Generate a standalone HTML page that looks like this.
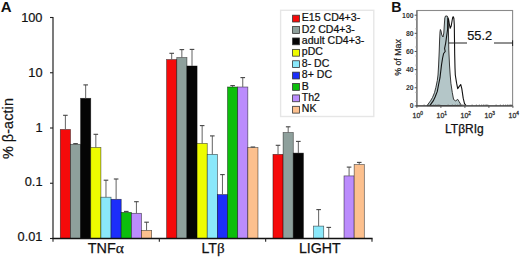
<!DOCTYPE html><html><head><meta charset="utf-8"><style>html,body{margin:0;padding:0;background:#fff;}svg{display:block;}text{font-family:"Liberation Sans",sans-serif;}</style></head><body>
<svg width="520" height="257" viewBox="0 0 520 257">
<rect width="520" height="257" fill="#fff"/>
<text x="0.8" y="11.9" font-size="15" font-weight="bold" fill="#111">A</text>
<text x="42.5" y="22.10" font-size="12.8" text-anchor="end" fill="#111" stroke="#111" stroke-width="0.2">100</text>
<line x1="50" y1="17.50" x2="53.0" y2="17.50" stroke="#222" stroke-width="1.1"/>
<text x="42.5" y="77.10" font-size="12.8" text-anchor="end" fill="#111" stroke="#111" stroke-width="0.2">10</text>
<line x1="50" y1="72.75" x2="53.0" y2="72.75" stroke="#222" stroke-width="1.1"/>
<text x="42.5" y="131.80" font-size="12.8" text-anchor="end" fill="#111" stroke="#111" stroke-width="0.2">1</text>
<line x1="50" y1="128.00" x2="53.0" y2="128.00" stroke="#222" stroke-width="1.1"/>
<text x="42.5" y="186.30" font-size="12.8" text-anchor="end" fill="#111" stroke="#111" stroke-width="0.2">0.1</text>
<line x1="50" y1="183.25" x2="53.0" y2="183.25" stroke="#222" stroke-width="1.1"/>
<text x="42.5" y="241.00" font-size="12.8" text-anchor="end" fill="#111" stroke="#111" stroke-width="0.2">0.01</text>
<line x1="50" y1="238.50" x2="53.0" y2="238.50" stroke="#222" stroke-width="1.1"/>
<rect x="60.30" y="129.50" width="10.15" height="109.00" fill="#f50a0a" stroke="rgba(0,0,0,0.6)" stroke-width="0.7"/>
<line x1="65.38" y1="129.50" x2="65.38" y2="115.30" stroke="#626262" stroke-width="1"/>
<line x1="63.08" y1="115.30" x2="67.67" y2="115.30" stroke="#444" stroke-width="1.1"/>
<rect x="70.45" y="144.30" width="10.15" height="94.20" fill="#8ea09c" stroke="rgba(0,0,0,0.6)" stroke-width="0.7"/>
<line x1="75.53" y1="144.30" x2="75.53" y2="143.60" stroke="#626262" stroke-width="1"/>
<line x1="73.23" y1="143.60" x2="77.83" y2="143.60" stroke="#444" stroke-width="1.1"/>
<rect x="80.60" y="98.30" width="10.15" height="140.20" fill="#050505" stroke="rgba(0,0,0,0.6)" stroke-width="0.7"/>
<line x1="85.67" y1="98.30" x2="85.67" y2="84.90" stroke="#626262" stroke-width="1"/>
<line x1="83.38" y1="84.90" x2="87.97" y2="84.90" stroke="#444" stroke-width="1.1"/>
<rect x="90.75" y="147.50" width="10.15" height="91.00" fill="#eefc00" stroke="rgba(0,0,0,0.6)" stroke-width="0.7"/>
<line x1="95.83" y1="147.50" x2="95.83" y2="134.30" stroke="#626262" stroke-width="1"/>
<line x1="93.53" y1="134.30" x2="98.12" y2="134.30" stroke="#444" stroke-width="1.1"/>
<rect x="100.90" y="197.20" width="10.15" height="41.30" fill="#8ae8fa" stroke="rgba(0,0,0,0.6)" stroke-width="0.7"/>
<line x1="105.98" y1="197.20" x2="105.98" y2="180.20" stroke="#626262" stroke-width="1"/>
<line x1="103.68" y1="180.20" x2="108.28" y2="180.20" stroke="#444" stroke-width="1.1"/>
<rect x="111.05" y="199.30" width="10.15" height="39.20" fill="#1c2efa" stroke="rgba(0,0,0,0.6)" stroke-width="0.7"/>
<line x1="116.12" y1="199.30" x2="116.12" y2="179.00" stroke="#626262" stroke-width="1"/>
<line x1="113.83" y1="179.00" x2="118.42" y2="179.00" stroke="#444" stroke-width="1.1"/>
<rect x="121.20" y="212.40" width="10.15" height="26.10" fill="#0cbe0c" stroke="rgba(0,0,0,0.6)" stroke-width="0.7"/>
<line x1="126.28" y1="212.40" x2="126.28" y2="211.40" stroke="#626262" stroke-width="1"/>
<line x1="123.98" y1="211.40" x2="128.58" y2="211.40" stroke="#444" stroke-width="1.1"/>
<rect x="131.35" y="213.30" width="10.15" height="25.20" fill="#bb8cfc" stroke="rgba(0,0,0,0.6)" stroke-width="0.7"/>
<line x1="136.42" y1="213.30" x2="136.42" y2="201.70" stroke="#626262" stroke-width="1"/>
<line x1="134.12" y1="201.70" x2="138.72" y2="201.70" stroke="#444" stroke-width="1.1"/>
<rect x="141.50" y="230.40" width="10.15" height="8.10" fill="#fcc08e" stroke="rgba(0,0,0,0.6)" stroke-width="0.7"/>
<line x1="146.57" y1="230.40" x2="146.57" y2="222.20" stroke="#626262" stroke-width="1"/>
<line x1="144.27" y1="222.20" x2="148.88" y2="222.20" stroke="#444" stroke-width="1.1"/>
<rect x="166.63" y="59.60" width="10.15" height="178.90" fill="#f50a0a" stroke="rgba(0,0,0,0.6)" stroke-width="0.7"/>
<line x1="171.70" y1="59.60" x2="171.70" y2="53.30" stroke="#626262" stroke-width="1"/>
<line x1="169.40" y1="53.30" x2="174.00" y2="53.30" stroke="#444" stroke-width="1.1"/>
<rect x="176.78" y="57.60" width="10.15" height="180.90" fill="#8ea09c" stroke="rgba(0,0,0,0.6)" stroke-width="0.7"/>
<line x1="181.85" y1="57.60" x2="181.85" y2="49.60" stroke="#626262" stroke-width="1"/>
<line x1="179.55" y1="49.60" x2="184.16" y2="49.60" stroke="#444" stroke-width="1.1"/>
<rect x="186.93" y="66.00" width="10.15" height="172.50" fill="#050505" stroke="rgba(0,0,0,0.6)" stroke-width="0.7"/>
<line x1="192.00" y1="66.00" x2="192.00" y2="49.40" stroke="#626262" stroke-width="1"/>
<line x1="189.70" y1="49.40" x2="194.31" y2="49.40" stroke="#444" stroke-width="1.1"/>
<rect x="197.08" y="143.50" width="10.15" height="95.00" fill="#eefc00" stroke="rgba(0,0,0,0.6)" stroke-width="0.7"/>
<line x1="202.15" y1="143.50" x2="202.15" y2="125.60" stroke="#626262" stroke-width="1"/>
<line x1="199.85" y1="125.60" x2="204.45" y2="125.60" stroke="#444" stroke-width="1.1"/>
<rect x="207.23" y="154.40" width="10.15" height="84.10" fill="#8ae8fa" stroke="rgba(0,0,0,0.6)" stroke-width="0.7"/>
<line x1="212.30" y1="154.40" x2="212.30" y2="135.90" stroke="#626262" stroke-width="1"/>
<line x1="210.00" y1="135.90" x2="214.60" y2="135.90" stroke="#444" stroke-width="1.1"/>
<rect x="217.38" y="194.60" width="10.15" height="43.90" fill="#1c2efa" stroke="rgba(0,0,0,0.6)" stroke-width="0.7"/>
<line x1="222.45" y1="194.60" x2="222.45" y2="174.60" stroke="#626262" stroke-width="1"/>
<line x1="220.15" y1="174.60" x2="224.75" y2="174.60" stroke="#444" stroke-width="1.1"/>
<rect x="227.53" y="87.00" width="10.15" height="151.50" fill="#0cbe0c" stroke="rgba(0,0,0,0.6)" stroke-width="0.7"/>
<line x1="232.60" y1="87.00" x2="232.60" y2="85.60" stroke="#626262" stroke-width="1"/>
<line x1="230.30" y1="85.60" x2="234.91" y2="85.60" stroke="#444" stroke-width="1.1"/>
<rect x="237.68" y="87.00" width="10.15" height="151.50" fill="#bb8cfc" stroke="rgba(0,0,0,0.6)" stroke-width="0.7"/>
<line x1="242.75" y1="87.00" x2="242.75" y2="77.60" stroke="#626262" stroke-width="1"/>
<line x1="240.45" y1="77.60" x2="245.06" y2="77.60" stroke="#444" stroke-width="1.1"/>
<rect x="247.83" y="147.60" width="10.15" height="90.90" fill="#fcc08e" stroke="rgba(0,0,0,0.6)" stroke-width="0.7"/>
<line x1="252.90" y1="147.60" x2="252.90" y2="147.00" stroke="#626262" stroke-width="1"/>
<line x1="250.60" y1="147.00" x2="255.20" y2="147.00" stroke="#444" stroke-width="1.1"/>
<rect x="272.96" y="154.40" width="10.15" height="84.10" fill="#f50a0a" stroke="rgba(0,0,0,0.6)" stroke-width="0.7"/>
<line x1="278.03" y1="154.40" x2="278.03" y2="145.30" stroke="#626262" stroke-width="1"/>
<line x1="275.73" y1="145.30" x2="280.33" y2="145.30" stroke="#444" stroke-width="1.1"/>
<rect x="283.11" y="132.60" width="10.15" height="105.90" fill="#8ea09c" stroke="rgba(0,0,0,0.6)" stroke-width="0.7"/>
<line x1="288.18" y1="132.60" x2="288.18" y2="126.80" stroke="#626262" stroke-width="1"/>
<line x1="285.88" y1="126.80" x2="290.48" y2="126.80" stroke="#444" stroke-width="1.1"/>
<rect x="293.26" y="153.10" width="10.15" height="85.40" fill="#050505" stroke="rgba(0,0,0,0.6)" stroke-width="0.7"/>
<line x1="298.33" y1="153.10" x2="298.33" y2="141.40" stroke="#626262" stroke-width="1"/>
<line x1="296.03" y1="141.40" x2="300.63" y2="141.40" stroke="#444" stroke-width="1.1"/>
<rect x="313.56" y="226.10" width="10.15" height="12.40" fill="#8ae8fa" stroke="rgba(0,0,0,0.6)" stroke-width="0.7"/>
<line x1="318.63" y1="226.10" x2="318.63" y2="209.60" stroke="#626262" stroke-width="1"/>
<line x1="316.33" y1="209.60" x2="320.94" y2="209.60" stroke="#444" stroke-width="1.1"/>
<line x1="328.78" y1="238.50" x2="328.78" y2="227.40" stroke="#626262" stroke-width="1"/>
<line x1="326.48" y1="227.40" x2="331.08" y2="227.40" stroke="#444" stroke-width="1.1"/>
<rect x="344.01" y="175.90" width="10.15" height="62.60" fill="#bb8cfc" stroke="rgba(0,0,0,0.6)" stroke-width="0.7"/>
<line x1="349.08" y1="175.90" x2="349.08" y2="167.10" stroke="#626262" stroke-width="1"/>
<line x1="346.78" y1="167.10" x2="351.38" y2="167.10" stroke="#444" stroke-width="1.1"/>
<rect x="354.16" y="164.60" width="10.15" height="73.90" fill="#fcc08e" stroke="rgba(0,0,0,0.6)" stroke-width="0.7"/>
<line x1="359.23" y1="164.60" x2="359.23" y2="162.40" stroke="#626262" stroke-width="1"/>
<line x1="356.93" y1="162.40" x2="361.53" y2="162.40" stroke="#444" stroke-width="1.1"/>
<line x1="53.0" y1="17" x2="53.0" y2="239.0" stroke="#222" stroke-width="1.2"/>
<line x1="52.4" y1="238.5" x2="372.59000000000003" y2="238.5" stroke="#111" stroke-width="1.3"/>
<line x1="53.00" y1="238.5" x2="53.00" y2="241.7" stroke="#222" stroke-width="1.1"/>
<line x1="159.33" y1="238.5" x2="159.33" y2="241.7" stroke="#222" stroke-width="1.1"/>
<line x1="265.66" y1="238.5" x2="265.66" y2="241.7" stroke="#222" stroke-width="1.1"/>
<line x1="371.99" y1="238.5" x2="371.99" y2="241.7" stroke="#222" stroke-width="1.1"/>
<text x="105.86" y="252.7" font-size="14.4" text-anchor="middle" fill="#111" stroke="#111" stroke-width="0.25">TNF<tspan font-family="Liberation Serif" font-size="15.5">α</tspan></text>
<text x="213.09" y="252.6" font-size="14.2" text-anchor="middle" fill="#111" stroke="#111" stroke-width="0.25">LT<tspan font-family="Liberation Serif" font-size="15">β</tspan></text>
<text x="319.82" y="252.8" font-size="14.2" text-anchor="middle" fill="#111" stroke="#111" stroke-width="0.25">LIGHT</text>
<text transform="translate(13.2,128.6) rotate(-90)" font-size="14.4" text-anchor="middle" fill="#111" stroke="#111" stroke-width="0.2" textLength="61" lengthAdjust="spacing">% β-actin</text>
<rect x="280.6" y="10.3" width="93.2" height="106.2" fill="#fff" stroke="#e6e6e6" stroke-width="1.4"/>
<rect x="292.6" y="15.20" width="6.8" height="6.8" fill="#f50a0a" stroke="#333" stroke-width="0.8"/>
<text transform="translate(301.8,21.20) scale(1.035,1)" font-size="10.2" fill="#111" stroke="#111" stroke-width="0.22">E15 CD4+3-</text>
<rect x="292.6" y="26.59" width="6.8" height="6.8" fill="#8ea09c" stroke="#333" stroke-width="0.8"/>
<text transform="translate(301.8,32.59) scale(1.035,1)" font-size="10.2" fill="#111" stroke="#111" stroke-width="0.22">D2 CD4+3-</text>
<rect x="292.6" y="37.98" width="6.8" height="6.8" fill="#050505" stroke="#333" stroke-width="0.8"/>
<text transform="translate(301.8,43.98) scale(1.035,1)" font-size="10.2" fill="#111" stroke="#111" stroke-width="0.22">adult CD4+3-</text>
<rect x="292.6" y="49.37" width="6.8" height="6.8" fill="#eefc00" stroke="#333" stroke-width="0.8"/>
<text transform="translate(301.8,55.37) scale(1.035,1)" font-size="10.2" fill="#111" stroke="#111" stroke-width="0.22">pDC</text>
<rect x="292.6" y="60.76" width="6.8" height="6.8" fill="#8ae8fa" stroke="#333" stroke-width="0.8"/>
<text transform="translate(301.8,66.76) scale(1.035,1)" font-size="10.2" fill="#111" stroke="#111" stroke-width="0.22">8- DC</text>
<rect x="292.6" y="72.15" width="6.8" height="6.8" fill="#1c2efa" stroke="#333" stroke-width="0.8"/>
<text transform="translate(301.8,78.15) scale(1.035,1)" font-size="10.2" fill="#111" stroke="#111" stroke-width="0.22">8+ DC</text>
<rect x="292.6" y="83.54" width="6.8" height="6.8" fill="#0cbe0c" stroke="#333" stroke-width="0.8"/>
<text transform="translate(301.8,89.54) scale(1.035,1)" font-size="10.2" fill="#111" stroke="#111" stroke-width="0.22">B</text>
<rect x="292.6" y="94.93" width="6.8" height="6.8" fill="#bb8cfc" stroke="#333" stroke-width="0.8"/>
<text transform="translate(301.8,100.93) scale(1.035,1)" font-size="10.2" fill="#111" stroke="#111" stroke-width="0.22">Th2</text>
<rect x="292.6" y="106.32" width="6.8" height="6.8" fill="#fcc08e" stroke="#333" stroke-width="0.8"/>
<text transform="translate(301.8,112.32) scale(1.035,1)" font-size="10.2" fill="#111" stroke="#111" stroke-width="0.22">NK</text>
<text x="391.2" y="12.3" font-size="14.2" font-weight="bold" fill="#111">B</text>
<rect x="416.9" y="10.5" width="95.7" height="95.4" fill="#fff" stroke="#8a8a8a" stroke-width="1.1"/>
<path d="M427,105.6 L430.5,100.9 L432.5,97.5 L434.5,92.7 L435.9,87.3 L437.3,80.5 L438,75 L438.6,65 L439.2,52 L439.6,40 L440,32 L440.4,29.5 L441,31 L441.8,35 L443,37 L443.8,33 L444.3,25 L444.8,18 L445.5,16 L447.2,16 L448,18 L448.3,22 L448.5,35 L448.8,50 L449.5,65 L450.2,75 L450.9,83.2 L452.3,92.7 L453.6,99.5 L455.7,100.9 L457.7,99.3 L459.1,101.6 L460.7,104.3 L461.5,105.6 Z" fill="#b4c6c8" stroke="#222" stroke-width="0.9" stroke-linejoin="round"/>
<path d="M429.8,105.6 L433.2,100.9 L435.2,96.8 L437.3,91.4 L438.6,84.5 L440,77.7 L440.3,75 L441.5,65 L442.6,58 L443.6,53.5 L445.2,51.5 L444.6,48.5 L445.7,43 L446.8,35 L447.6,29.5 L447.7,22 L447.9,18 L448.6,19.5 L449.3,24 L450.2,28.3 L451.2,26 L452.2,20 L452.8,17.2 L453.3,16.8 L453.9,18.5 L454.3,25 L454.5,40 L454.7,55 L455,68 L455.3,75 L456.6,83.2 L457.7,88.6 L459.1,86.6 L460.7,84.5 L461.8,88.6 L463.2,98.2 L464.5,103.6 L465.9,105.4" fill="none" stroke="#111" stroke-width="1.1" stroke-linejoin="round"/>
<line x1="416.9" y1="10.5" x2="416.9" y2="105.9" stroke="#707070" stroke-width="1.2"/>
<line x1="415.30" y1="19.73" x2="416.9" y2="19.73" stroke="#999" stroke-width="0.8"/>
<line x1="415.30" y1="28.80" x2="416.9" y2="28.80" stroke="#999" stroke-width="0.8"/>
<line x1="415.30" y1="37.88" x2="416.9" y2="37.88" stroke="#999" stroke-width="0.8"/>
<line x1="415.30" y1="46.95" x2="416.9" y2="46.95" stroke="#999" stroke-width="0.8"/>
<line x1="415.30" y1="56.02" x2="416.9" y2="56.02" stroke="#999" stroke-width="0.8"/>
<line x1="415.30" y1="65.09" x2="416.9" y2="65.09" stroke="#999" stroke-width="0.8"/>
<line x1="415.30" y1="74.16" x2="416.9" y2="74.16" stroke="#999" stroke-width="0.8"/>
<line x1="415.30" y1="83.23" x2="416.9" y2="83.23" stroke="#999" stroke-width="0.8"/>
<line x1="415.30" y1="92.30" x2="416.9" y2="92.30" stroke="#999" stroke-width="0.8"/>
<line x1="415.30" y1="101.37" x2="416.9" y2="101.37" stroke="#999" stroke-width="0.8"/>
<line x1="424.12" y1="104.4" x2="424.12" y2="105.9" stroke="#666" stroke-width="0.7"/>
<line x1="428.35" y1="104.4" x2="428.35" y2="105.9" stroke="#666" stroke-width="0.7"/>
<line x1="431.35" y1="104.4" x2="431.35" y2="105.9" stroke="#666" stroke-width="0.7"/>
<line x1="433.68" y1="104.4" x2="433.68" y2="105.9" stroke="#666" stroke-width="0.7"/>
<line x1="435.58" y1="104.4" x2="435.58" y2="105.9" stroke="#666" stroke-width="0.7"/>
<line x1="437.18" y1="104.4" x2="437.18" y2="105.9" stroke="#666" stroke-width="0.7"/>
<line x1="438.57" y1="104.4" x2="438.57" y2="105.9" stroke="#666" stroke-width="0.7"/>
<line x1="439.80" y1="104.4" x2="439.80" y2="105.9" stroke="#666" stroke-width="0.7"/>
<line x1="448.12" y1="104.4" x2="448.12" y2="105.9" stroke="#666" stroke-width="0.7"/>
<line x1="452.35" y1="104.4" x2="452.35" y2="105.9" stroke="#666" stroke-width="0.7"/>
<line x1="455.35" y1="104.4" x2="455.35" y2="105.9" stroke="#666" stroke-width="0.7"/>
<line x1="457.68" y1="104.4" x2="457.68" y2="105.9" stroke="#666" stroke-width="0.7"/>
<line x1="459.58" y1="104.4" x2="459.58" y2="105.9" stroke="#666" stroke-width="0.7"/>
<line x1="461.18" y1="104.4" x2="461.18" y2="105.9" stroke="#666" stroke-width="0.7"/>
<line x1="462.57" y1="104.4" x2="462.57" y2="105.9" stroke="#666" stroke-width="0.7"/>
<line x1="463.80" y1="104.4" x2="463.80" y2="105.9" stroke="#666" stroke-width="0.7"/>
<line x1="472.12" y1="104.4" x2="472.12" y2="105.9" stroke="#666" stroke-width="0.7"/>
<line x1="476.35" y1="104.4" x2="476.35" y2="105.9" stroke="#666" stroke-width="0.7"/>
<line x1="479.35" y1="104.4" x2="479.35" y2="105.9" stroke="#666" stroke-width="0.7"/>
<line x1="481.68" y1="104.4" x2="481.68" y2="105.9" stroke="#666" stroke-width="0.7"/>
<line x1="483.58" y1="104.4" x2="483.58" y2="105.9" stroke="#666" stroke-width="0.7"/>
<line x1="485.18" y1="104.4" x2="485.18" y2="105.9" stroke="#666" stroke-width="0.7"/>
<line x1="486.57" y1="104.4" x2="486.57" y2="105.9" stroke="#666" stroke-width="0.7"/>
<line x1="487.80" y1="104.4" x2="487.80" y2="105.9" stroke="#666" stroke-width="0.7"/>
<line x1="496.12" y1="104.4" x2="496.12" y2="105.9" stroke="#666" stroke-width="0.7"/>
<line x1="500.35" y1="104.4" x2="500.35" y2="105.9" stroke="#666" stroke-width="0.7"/>
<line x1="503.35" y1="104.4" x2="503.35" y2="105.9" stroke="#666" stroke-width="0.7"/>
<line x1="505.68" y1="104.4" x2="505.68" y2="105.9" stroke="#666" stroke-width="0.7"/>
<line x1="507.58" y1="104.4" x2="507.58" y2="105.9" stroke="#666" stroke-width="0.7"/>
<line x1="509.18" y1="104.4" x2="509.18" y2="105.9" stroke="#666" stroke-width="0.7"/>
<line x1="510.57" y1="104.4" x2="510.57" y2="105.9" stroke="#666" stroke-width="0.7"/>
<line x1="511.80" y1="104.4" x2="511.80" y2="105.9" stroke="#666" stroke-width="0.7"/>
<line x1="415.9" y1="105.9" x2="512.6" y2="105.9" stroke="#444" stroke-width="1.2"/>
<text x="413.6" y="17.70" font-size="6.9" font-weight="bold" text-anchor="end" fill="#333">100</text>
<line x1="414.6" y1="15.20" x2="416.9" y2="15.20" stroke="#555" stroke-width="1"/>
<text x="413.6" y="35.84" font-size="6.9" font-weight="bold" text-anchor="end" fill="#333">80</text>
<line x1="414.6" y1="33.34" x2="416.9" y2="33.34" stroke="#555" stroke-width="1"/>
<text x="413.6" y="53.98" font-size="6.9" font-weight="bold" text-anchor="end" fill="#333">60</text>
<line x1="414.6" y1="51.48" x2="416.9" y2="51.48" stroke="#555" stroke-width="1"/>
<text x="413.6" y="72.12" font-size="6.9" font-weight="bold" text-anchor="end" fill="#333">40</text>
<line x1="414.6" y1="69.62" x2="416.9" y2="69.62" stroke="#555" stroke-width="1"/>
<text x="413.6" y="90.26" font-size="6.9" font-weight="bold" text-anchor="end" fill="#333">20</text>
<line x1="414.6" y1="87.76" x2="416.9" y2="87.76" stroke="#555" stroke-width="1"/>
<text x="413.6" y="108.40" font-size="6.9" font-weight="bold" text-anchor="end" fill="#333">0</text>
<line x1="414.6" y1="105.90" x2="416.9" y2="105.90" stroke="#555" stroke-width="1"/>
<line x1="416.90" y1="105.9" x2="416.90" y2="107.9" stroke="#555" stroke-width="1"/>
<text x="412.60" y="117.6" font-size="6.9" fill="#333" stroke="#333" stroke-width="0.3">10<tspan dy="-2.9" font-size="4.8">0</tspan></text>
<line x1="440.90" y1="105.9" x2="440.90" y2="107.9" stroke="#555" stroke-width="1"/>
<text x="436.60" y="117.6" font-size="6.9" fill="#333" stroke="#333" stroke-width="0.3">10<tspan dy="-2.9" font-size="4.8">1</tspan></text>
<line x1="464.90" y1="105.9" x2="464.90" y2="107.9" stroke="#555" stroke-width="1"/>
<text x="460.60" y="117.6" font-size="6.9" fill="#333" stroke="#333" stroke-width="0.3">10<tspan dy="-2.9" font-size="4.8">2</tspan></text>
<line x1="488.90" y1="105.9" x2="488.90" y2="107.9" stroke="#555" stroke-width="1"/>
<text x="484.60" y="117.6" font-size="6.9" fill="#333" stroke="#333" stroke-width="0.3">10<tspan dy="-2.9" font-size="4.8">3</tspan></text>
<line x1="512.90" y1="105.9" x2="512.90" y2="107.9" stroke="#555" stroke-width="1"/>
<text x="508.60" y="117.6" font-size="6.9" fill="#333" stroke="#333" stroke-width="0.3">10<tspan dy="-2.9" font-size="4.8">4</tspan></text>
<text x="464.4" y="132.9" font-size="12" text-anchor="middle" fill="#111" stroke="#111" stroke-width="0.25">LTβRIg</text>
<text transform="translate(400.6,57.5) rotate(-90)" font-size="8.8" text-anchor="middle" fill="#222" stroke="#222" stroke-width="0.2">% of Max</text>
<line x1="448.8" y1="43.0" x2="467" y2="43.0" stroke="#222" stroke-width="1"/>
<line x1="494" y1="43.0" x2="512.6" y2="43.0" stroke="#222" stroke-width="1"/>
<line x1="512.6" y1="40.3" x2="512.6" y2="46" stroke="#222" stroke-width="1"/>
<text x="467.2" y="40.3" font-size="12.8" fill="#111" stroke="#111" stroke-width="0.2">55.2</text>
</svg></body></html>
